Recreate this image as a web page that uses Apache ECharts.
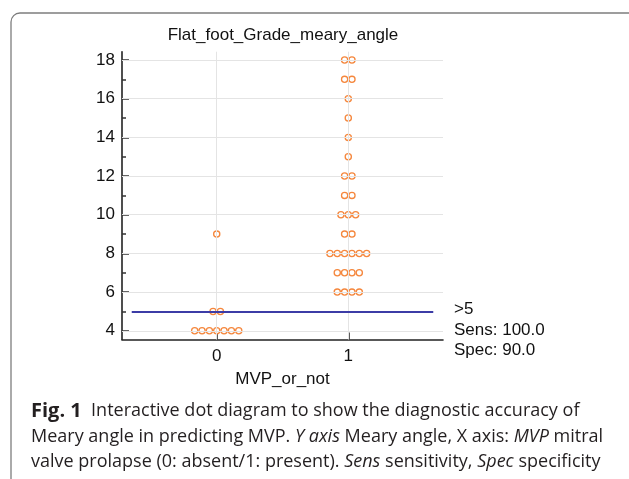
<!DOCTYPE html>
<html>
<head>
<meta charset="utf-8">
<script src="https://cdn.jsdelivr.net/npm/echarts@6/dist/echarts.min.js"></script>
<style>
html,body{margin:0;padding:0;background:#fff;}
#chart{width:629px;height:479px;}
</style>
</head>
<body>
<div id="chart"></div>
<script>
// ---- data ----
const chartTitle = 'Flat_foot_Grade_meary_angle';
const xAxisName = 'MVP_or_not';
const categories = [0, 1];
const group0Values = [4, 4, 4, 4, 4, 4, 4, 5, 5, 9];
const group1Values = [6, 6, 6, 6, 7, 7, 7, 7, 8, 8, 8, 8, 8, 8, 9, 9, 10, 10, 10, 11, 11, 12, 12, 13, 14, 15, 16, 17, 17, 18, 18];
const yMajorTicks = [4, 6, 8, 10, 12, 14, 16, 18];
const yMinorTicks = [5, 7, 9, 11, 13, 15, 17];
const criterionValue = 5;
const criterionLabel = '>5';
const sensText = 'Sens: 100.0';
const specText = 'Spec: 90.0';
const captionLines = [
  '{b|Fig. 1}  Interactive dot diagram to show the diagnostic accuracy of',
  'Meary angle in predicting MVP. {i|Y axis} Meary angle, X axis: {i|MVP} mitral',
  'valve prolapse (0: absent/1: present). {i|Sens} sensitivity, {i|Spec} specificity'
];

// ---- layout helpers ----
const X_MIN = -0.72, X_MAX = 1.72;
const Y_MIN = 3.55, Y_MAX = 18.43;
const DOT_STEP = 0.0558;

function dotPositions(cat, values) {
  const counts = {};
  values.forEach(v => { counts[v] = (counts[v] || 0) + 1; });
  const pts = [];
  Object.keys(counts).forEach(k => {
    const n = counts[k];
    for (let i = 0; i < n; i++) {
      pts.push([cat + (i - (n - 1) / 2) * DOT_STEP, Number(k)]);
    }
  });
  return pts;
}
const dots = dotPositions(categories[0], group0Values).concat(dotPositions(categories[1], group1Values));

const FONT = '"Liberation Sans", Arial, sans-serif';
const CAP_FONT = '"Open Sans", sans-serif';
const chart = echarts.init(document.getElementById('chart'), null, {renderer: 'canvas'});

const option = {
  backgroundColor: '#fff',
  animation: false,
  grid: {left: 122, right: 186, top: 51.7, bottom: 139.5, containLabel: false},
  xAxis: {
    type: 'value', min: X_MIN, max: X_MAX,
    name: xAxisName, nameLocation: 'middle', nameGap: 31,
    nameTextStyle: {fontFamily: FONT, fontSize: 17, color: '#111'},
    axisLine: {show: true, onZero: false, lineStyle: {color: '#222', width: 1.6}},
    axisTick: {show: true, inside: true, length: 7, customValues: categories, lineStyle: {color: '#333', width: 1.6}},
    axisLabel: {customValues: categories, fontFamily: FONT, fontSize: 17, color: '#111', margin: 8},
    splitLine: {show: false}
  },
  yAxis: [{
    type: 'value', min: Y_MIN, max: Y_MAX, position: 'left',
    axisLine: {show: true, onZero: false, lineStyle: {color: '#222', width: 1.6}},
    axisTick: {show: true, inside: true, length: 7, customValues: yMajorTicks, lineStyle: {color: '#333', width: 1.5}},
    axisLabel: {customValues: yMajorTicks, fontFamily: FONT, fontSize: 17, color: '#111', margin: 7},
    splitLine: {show: false}
  }, {
    type: 'value', min: Y_MIN, max: Y_MAX, position: 'left', offset: 0,
    axisLine: {show: false, onZero: false},
    axisTick: {show: true, inside: true, length: 4, customValues: yMinorTicks, lineStyle: {color: '#333', width: 1.5}},
    axisLabel: {show: false},
    splitLine: {show: false}
  }],
  series: [{
    type: 'scatter', data: [], silent: true, z: 1,
    markLine: {
      silent: true, symbol: ['none', 'none'], animation: false,
      label: {show: false},
      lineStyle: {color: '#e4e4e4', width: 1, type: 'solid'},
      data: yMajorTicks.map(v => ({yAxis: v})).concat(categories.map(c => ({xAxis: c})))
    }
  }, {
    type: 'line', data: [], silent: true, z: 2,
    markLine: {
      silent: true, symbol: ['none', 'none'], animation: false,
      label: {show: false},
      lineStyle: {color: '#3c3ca6', width: 2, type: 'solid'},
      data: [[{coord: [X_MIN + 0.074, criterionValue]}, {coord: [X_MAX - 0.074, criterionValue]}]]
    }
  }, {
    type: 'scatter', z: 3,
    symbol: 'circle', symbolSize: 6.2,
    itemStyle: {color: '#fff', borderColor: '#f5873d', borderWidth: 1.3, opacity: 1},
    data: dots
  }],
  graphic: [
    {type: 'rect', silent: true, shape: {x: 11, y: 13, width: 650, height: 520, r: 9},
      style: {fill: 'none', stroke: '#7d7d7d', lineWidth: 1.3}, z: 0},
    {type: 'text', silent: true, style: {text: chartTitle, x: 283, y: 35, align: 'center', verticalAlign: 'middle', font: '17px ' + FONT, fill: '#111'}, z: 10},
    {type: 'text', silent: true, style: {text: criterionLabel, x: 454, y: 309.5, verticalAlign: 'middle', font: '17px ' + FONT, fill: '#111'}, z: 10},
    {type: 'text', silent: true, style: {text: sensText, x: 454, y: 330, verticalAlign: 'middle', font: '17px ' + FONT, fill: '#111'}, z: 10},
    {type: 'text', silent: true, style: {text: specText, x: 454, y: 350.5, verticalAlign: 'middle', font: '17px ' + FONT, fill: '#111'}, z: 10}
  ].concat(captionLines.map((t, i) => ({
    type: 'text', silent: true, z: 10,
    style: {
      text: t, x: 31, y: 411 + i * 25.5, verticalAlign: 'middle',
      fontFamily: CAP_FONT, fontSize: 18, fill: '#231f20',
      rich: {
        b: {fontFamily: CAP_FONT, fontSize: 20, fontWeight: 'bold', fill: '#231f20'},
        i: {fontFamily: CAP_FONT, fontSize: 18, fontStyle: 'italic', fill: '#231f20'}
      }
    }
  })))
};
chart.setOption(option);
</script>
</body>
</html>
